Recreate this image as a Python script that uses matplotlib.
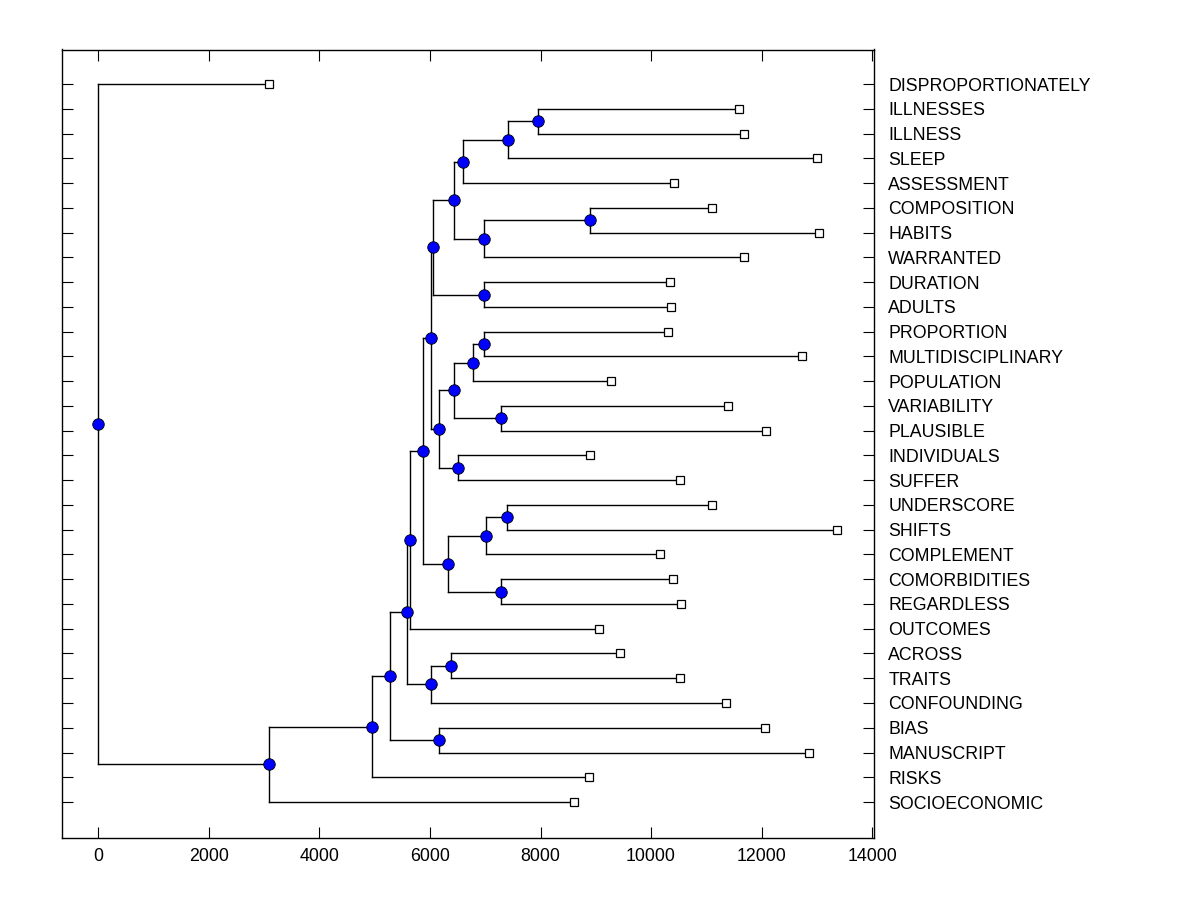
import matplotlib
matplotlib.use("Agg")
import matplotlib.pyplot as plt

plt.rcParams['font.family'] = ['Liberation Sans', 'DejaVu Sans']

# leaves, top to bottom, with the x where each branch ends
leaves = ['DISPROPORTIONATELY', 'ILLNESSES', 'ILLNESS', 'SLEEP', 'ASSESSMENT',
          'COMPOSITION', 'HABITS', 'WARRANTED', 'DURATION', 'ADULTS',
          'PROPORTION', 'MULTIDISCIPLINARY', 'POPULATION', 'VARIABILITY',
          'PLAUSIBLE', 'INDIVIDUALS', 'SUFFER', 'UNDERSCORE', 'SHIFTS',
          'COMPLEMENT', 'COMORBIDITIES', 'REGARDLESS', 'OUTCOMES', 'ACROSS',
          'TRAITS', 'CONFOUNDING', 'BIAS', 'MANUSCRIPT', 'RISKS', 'SOCIOECONOMIC']
leaf_x = [3095, 11584, 11674, 12995, 10407,
          11095, 13032, 11674, 10335, 10353,
          10299, 12724, 9267, 11385,
          12072, 8887, 10516, 11095, 13357,
          10154, 10389, 10534, 9050, 9430,
          10516, 11348, 12054, 12851, 8869, 8597]

# internal nodes: name, x, first child, second child
node_names = ['AA', 'Z', 'W', 'Y', 'X', 'U', 'V', 'N', 'T', 'R', 'S', 'P', 'Q', 'O',
              'I', 'M', 'K', 'L', 'J', 'H', 'E', 'G', 'F', 'D', 'MB', 'C', 'B',
              'A', 'root']
node_x = [7946, 7403, 6606, 8887, 6976, 6443, 6976, 6063, 6986, 6787, 7276, 6443,
          6498, 6154, 6022, 7385, 7005, 7276, 6317, 5882, 5647, 6371, 6027, 5575,
          6154, 5285, 4959, 3095, 0]
node_left = ['ILLNESSES', 'AA', 'Z', 'COMPOSITION', 'Y', 'W', 'DURATION', 'U',
             'PROPORTION', 'T', 'VARIABILITY', 'R', 'INDIVIDUALS', 'P', 'N',
             'UNDERSCORE', 'M', 'COMORBIDITIES', 'K', 'I', 'H', 'ACROSS', 'G',
             'E', 'BIAS', 'D', 'C', 'B', 'DISPROPORTIONATELY']
node_right = ['ILLNESS', 'SLEEP', 'ASSESSMENT', 'HABITS', 'WARRANTED', 'X',
              'ADULTS', 'V', 'MULTIDISCIPLINARY', 'POPULATION', 'PLAUSIBLE', 'S',
              'SUFFER', 'Q', 'O', 'SHIFTS', 'COMPLEMENT', 'REGARDLESS', 'L', 'J',
              'OUTCOMES', 'TRAITS', 'CONFOUNDING', 'F', 'MANUSCRIPT', 'MB',
              'RISKS', 'SOCIOECONOMIC', 'A']

xs = dict(zip(leaves, leaf_x))
xs.update(zip(node_names, node_x))
rows = {name: i for i, name in enumerate(leaves)}
for n, l, r in zip(node_names, node_left, node_right):
    rows[n] = (rows[l] + rows[r]) / 2

fig = plt.figure(figsize=(12, 9), dpi=100)
ax = fig.add_axes([0.052, 0.069, 0.676, 0.876])

for n, l, r in zip(node_names, node_left, node_right):
    x = xs[n]
    ax.plot([x, x], [rows[l], rows[r]], color='black', lw=1, zorder=1)
    for c in (l, r):
        ax.plot([x, xs[c]], [rows[c], rows[c]], color='black', lw=1, zorder=1)

ax.plot(leaf_x, range(len(leaves)), 's', ms=6, mfc='white', mec='black',
        mew=0.9, zorder=3, clip_on=False)
ax.plot([xs[n] for n in node_names], [rows[n] for n in node_names], 'o', ms=8.3,
        mfc='#0000ff', mec='black', mew=0.6, zorder=4)

ax.set_xlim(-652, 14027)
ax.set_ylim(30.45, -1.4)
ax.set_xticks(range(0, 14001, 2000))
ax.set_yticks(range(len(leaves)))
ax.set_yticklabels(leaves)
ax.tick_params(axis='x', direction='in', length=8, top=True, bottom=True,
               labelsize=12.8, pad=7)
ax.tick_params(axis='y', direction='in', length=8, left=True, right=True,
               labelleft=False, labelright=True, labelsize=12.8, pad=10.5)
for s in ax.spines.values():
    s.set_linewidth(1)

fig.savefig('out.png', dpi=100)
